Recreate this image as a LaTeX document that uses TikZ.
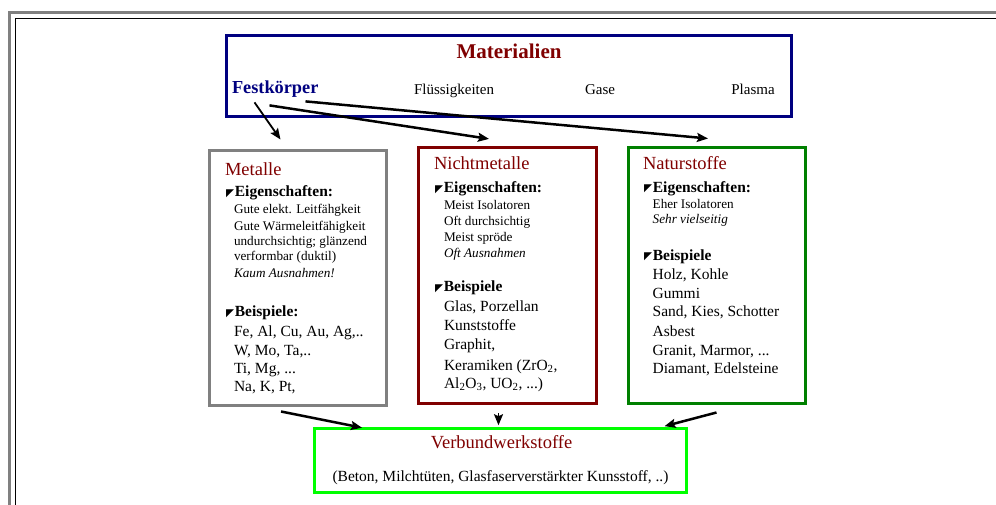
\documentclass[tikz,border=0pt]{standalone}
\usepackage{fontspec}
\setmainfont{Liberation Serif}
\newfontfamily\symf{DejaVu Sans}
\usetikzlibrary{arrows.meta,calc}
\definecolor{navyb}{HTML}{000080}
\definecolor{dred}{HTML}{800000}
\definecolor{grayb}{HTML}{808080}
\definecolor{greenb}{HTML}{008000}
\definecolor{limeb}{HTML}{00FF00}
\newcommand\tri{\raisebox{0.5pt}{\symf\fontsize{10.5}{10.5}\selectfont ◤}\hspace{0.8pt}}
\begin{document}
\begin{tikzpicture}[x=1pt,y=-1pt,
  box/.style={draw, line width=3pt, inner sep=0pt, fill=none},
  txt/.style={anchor=base west, inner sep=0pt, outer sep=0pt},
  ttl/.style={txt, text=dred, font=\fontsize{18.5}{18.5}\selectfont},
  hd/.style={txt, font=\fontsize{15.5}{15.5}\selectfont\bfseries},
  sm/.style={txt, font=\fontsize{13.2}{13.2}\selectfont},
  smi/.style={txt, font=\fontsize{13.2}{13.2}\selectfont\itshape},
  lg/.style={txt, font=\fontsize{15.5}{15.5}\selectfont},
  arr/.style={line width=2.5pt, -{Stealth[length=11pt,width=9pt,inset=2pt]}},
  arrthin/.style={line width=1.8pt, -{Stealth[length=11pt,width=9pt,inset=2pt]}}]
\useasboundingbox (0,0) rectangle (996,505);
\fill[white] (0,0) rectangle (996,505);
% frame
\draw[grayb, line width=3pt] (9.5,505) -- (9.5,12.5) -- (996,12.5);
\draw[black, line width=1.5pt] (15.5,505) -- (15.5,18.5) -- (996,18.5);
% boxes
\node[box, draw=navyb, minimum width=565pt, minimum height=80.5pt] (mat) at (508.5,75.8) {};
\node[box, draw=grayb, minimum width=177.5pt, minimum height=254.5pt] (metalle) at (297.75,277.75) {};
\node[box, draw=dred, minimum width=178pt, minimum height=256pt] (nicht) at (507.5,275.4) {};
\node[box, draw=greenb, minimum width=177pt, minimum height=256pt] (natur) at (717,275.5) {};
\node[box, draw=limeb, minimum width=372.5pt, minimum height=63.3pt] (verbund) at (500.25,460.35) {};
% top box text
\node[txt, text=dred, font=\fontsize{21}{21}\selectfont\bfseries, anchor=base] (mattitle) at (509,59) {Materialien};
\node[txt, text=navyb, font=\fontsize{18.3}{18.3}\selectfont\bfseries] (festk) at (232,93.5) {Festkörper};
\node[txt, font=\fontsize{15}{15}\selectfont, anchor=base] (fluess) at (454,94.5) {Flüssigkeiten};
\node[txt, font=\fontsize{15}{15}\selectfont, anchor=base] (gase) at (600,94.5) {Gase};
\node[txt, font=\fontsize{15}{15}\selectfont, anchor=base] (plasma) at (753,94.5) {Plasma};
% Metalle
\node[ttl] (mt) at (225,175.7) {Metalle};
\node[hd] (me) at (226,196.7) {\tri Eigenschaften:};
\node[sm] (m1) at (234,214) {Gute elekt. Leitfähgkeit};
\node[sm] (m2) at (234,230) {Gute Wärmeleitfähigkeit};
\node[sm] (m3) at (234,246) {undurchsichtig; glänzend};
\node[sm] (m4) at (234,261) {verformbar (duktil)};
\node[smi] (m5) at (234,277) {Kaum Ausnahmen!};
\node[hd] (mb) at (226,316.7) {\tri Beispiele:};
\node[lg] (m6) at (234,336) {Fe, Al, Cu, Au, Ag,..};
\node[lg] (m7) at (234,355) {W, Mo, Ta,..};
\node[lg] (m8) at (234,373) {Ti, Mg, ...};
\node[lg] (m9) at (234,391) {Na, K, Pt,};
% Nichtmetalle
\node[ttl] (nt) at (434,170) {Nichtmetalle};
\node[hd] (ne) at (435,192.7) {\tri Eigenschaften:};
\node[sm] (n1) at (444,209.3) {Meist Isolatoren};
\node[sm] (n2) at (444,225.3) {Oft durchsichtig};
\node[sm] (n3) at (444,241.7) {Meist spröde};
\node[smi] (n4) at (444,257.3) {Oft Ausnahmen};
\node[hd] (nb) at (435,291.7) {\tri Beispiele};
\node[lg] (n5) at (444,311.7) {Glas, Porzellan};
\node[lg] (n6) at (444,330.7) {Kunststoffe};
\node[lg] (n7) at (444,349.3) {Graphit,};
\node[lg] (n8) at (444,370) {Keramiken (ZrO\textsubscript{2},};
\node[lg] (n9) at (444,388.3) {Al\textsubscript{2}O\textsubscript{3}, UO\textsubscript{2}, ...)};
% Naturstoffe
\node[ttl] (ntt) at (643,169.3) {Naturstoffe};
\node[hd] (nae) at (644,192.3) {\tri Eigenschaften:};
\node[sm] (na1) at (652.7,208.3) {Eher Isolatoren};
\node[smi] (na2) at (652.7,224) {Sehr vielseitig};
\node[hd] (nab) at (644,260) {\tri Beispiele};
\node[lg] (na3) at (652.7,279.3) {Holz, Kohle};
\node[lg] (na4) at (652.7,298.3) {Gummi};
\node[lg] (na5) at (652.7,316.7) {Sand, Kies, Schotter};
\node[lg] (na6) at (652.7,336) {Asbest};
\node[lg] (na7) at (652.7,355) {Granit, Marmor, ...};
\node[lg] (na8) at (652.7,373.3) {Diamant, Edelsteine};
% Verbund
\node[txt, text=dred, font=\fontsize{18.5}{18.5}\selectfont, anchor=base] (vt) at (501.5,448.3) {Verbundwerkstoffe};
\node[txt, font=\fontsize{15.5}{15.5}\selectfont, anchor=base] (vs) at (500.5,481.7) {(Beton, Milchtüten, Glasfaserverstärkter Kunsstoff, ..)};
% arrow end points
\coordinate (s1) at ($(festk.south west)+(22.5,5)$);
\coordinate (s2) at ($(festk.south west)+(37.5,8)$);
\coordinate (s3) at ($(festk.south west)+(73.5,4)$);
\coordinate (t1) at ($(metalle.north west)+(73,-9.5)$);
\coordinate (t2) at ($(nicht.north west)+(72,-7)$);
\coordinate (t3) at ($(natur.north west)+(81,-7.5)$);
\coordinate (b1) at ($(metalle.south west)+(73.5,5)$);
\coordinate (b2) at ($(nicht.south west)+(81.5,8.5)$);
\coordinate (b3) at ($(natur.south west)+(89.5,7.5)$);
\coordinate (v1) at ($(verbund.north west)+(49.5,0.5)$);
\coordinate (v2) at ($(verbund.north west)+(186,-2)$);
\coordinate (v3) at ($(verbund.north west)+(352,-1)$);
\draw[arrthin] (s1) -- (t1);
\draw[arr] (s2) -- (t2);
\draw[arr] (s3) -- (t3);
\draw[arr] (b1) -- (v1);
\draw[arrthin] (b2) -- (v2);
\draw[arr] (b3) -- (v3);
\end{tikzpicture}
\end{document}
